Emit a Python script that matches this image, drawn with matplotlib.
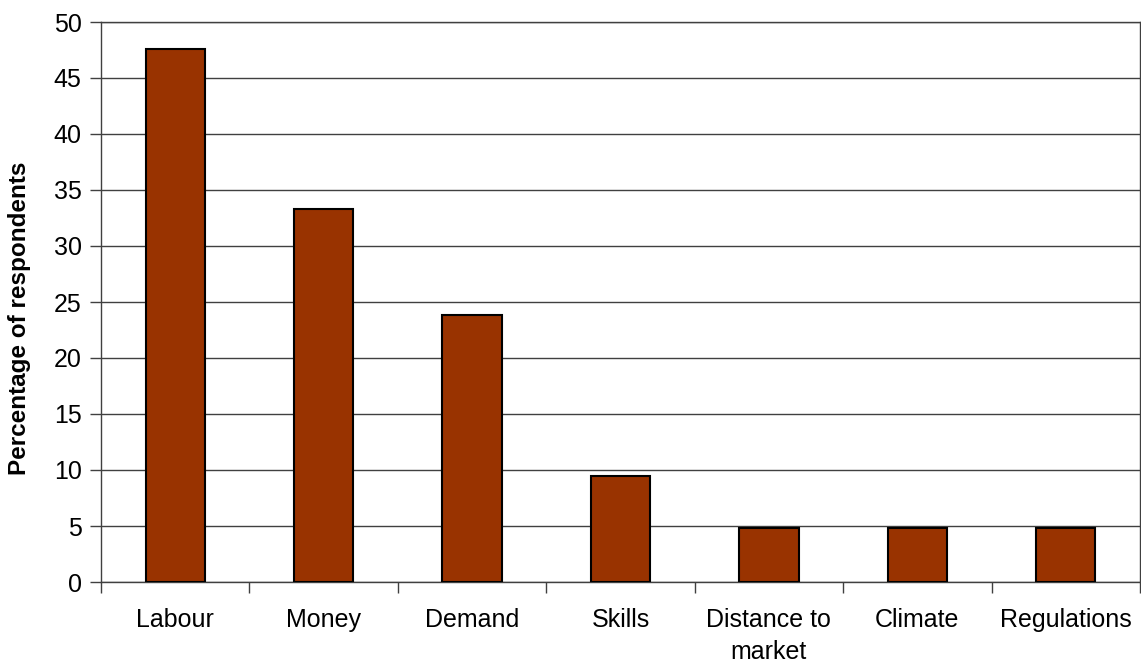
import numpy as np
import matplotlib
matplotlib.use('Agg')
import matplotlib.pyplot as plt

# Data
categories = ['Labour', 'Money', 'Demand', 'Skills', 'Distance to\nmarket', 'Climate', 'Regulations']
values = [47.6, 33.3, 23.8, 9.5, 4.8, 4.8, 4.8]

plt.rcParams['font.family'] = ['Liberation Sans', 'DejaVu Sans']

fig = plt.figure(figsize=(11.41, 6.69), dpi=100)
ax = fig.add_axes([101 / 1141, 1 - 582 / 669, 1039 / 1141, 560 / 669])

x = np.arange(len(categories))
ax.bar(x, values, width=0.4, color='#993300', edgecolor='black', linewidth=1.5, zorder=3)

ax.set_xlim(-0.5, len(categories) - 0.5)
ax.set_ylim(0, 50)
ax.set_yticks(np.arange(0, 51, 5))
ax.yaxis.grid(True, color='#404040', linewidth=1.0, zorder=0)

# category boundaries as major ticks, labels on minor ticks at bar centres
ax.set_xticks(np.arange(-0.5, len(categories), 1.0))
ax.set_xticklabels([])
ax.set_xticks(x, minor=True)
ax.set_xticklabels(categories, minor=True, fontsize=18, linespacing=1.4)
ax.tick_params(axis='x', which='major', length=8, width=1, color='#404040', direction='out')
ax.tick_params(axis='x', which='minor', length=0, pad=19)
ax.tick_params(axis='y', length=8, width=1, color='#404040', labelsize=18, pad=6)

for s in ax.spines.values():
    s.set_color('#404040')
    s.set_linewidth(1.0)

ax.set_ylabel('Percentage of respondents', fontsize=17.5, fontweight='bold')
ax.yaxis.set_label_coords(-0.0675, 0.47)

fig.savefig('out.png', dpi=100)
